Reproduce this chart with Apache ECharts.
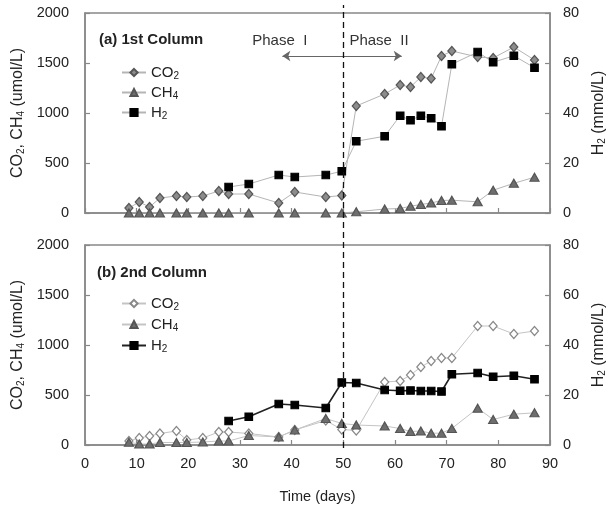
<!DOCTYPE html>
<html><head><meta charset="utf-8">
<script src="https://cdn.jsdelivr.net/npm/echarts@6/dist/echarts.min.js"></script>
<style>html,body{margin:0;padding:0;background:#fff}#c{width:609px;height:510px}</style>
</head><body><div id="c"></div>
<script>
// Sampling days (shared by both columns)
const days = [8.5, 10.5, 12.5, 14.5, 17.7, 19.7, 22.8, 25.9, 27.8, 31.7, 37.5, 40.6, 46.6, 49.7, 52.5, 58, 61, 63, 65, 67, 69, 71, 76, 79, 83, 87];
const h2Days = [27.8, 31.7, 37.5, 40.6, 46.6, 49.7, 52.5, 58, 61, 63, 65, 67, 69, 71, 76, 79, 83, 87];

// (a) 1st Column
const co2A = [50, 110, 60, 150, 170, 160, 170, 220, 190, 190, 100, 210, 160, 175, 1070, 1190, 1280, 1260, 1360, 1345, 1570, 1620, 1560, 1550, 1660, 1530];
const ch4A = [0, 0, 0, 0, 0, 0, 0, 0, 0, 0, 0, 0, 0, 0, 12, 40, 45, 68, 85, 100, 125, 128, 112, 228, 297, 358];
const h2A = [10.4, 11.6, 15.2, 14.4, 15.2, 16.7, 28.7, 30.7, 38.9, 37.1, 38.9, 37.9, 34.7, 59.5, 64.4, 60.3, 62.9, 58.1];

// (b) 2nd Column
const co2B = [40, 70, 90, 115, 140, 50, 70, 130, 130, 115, 80, 150, 245, 155, 145, 630, 640, 700, 780, 840, 870, 870, 1190, 1190, 1110, 1140];
const ch4B = [28, 10, 10, 25, 25, 25, 30, 40, 40, 95, 80, 150, 265, 215, 200, 190, 165, 135, 140, 118, 118, 165, 368, 255, 308, 322];
const h2B = [9.6, 11.3, 16.4, 16.0, 14.8, 25.0, 24.8, 22.0, 21.7, 21.8, 21.6, 21.6, 21.4, 28.3, 28.8, 27.3, 27.7, 26.3];

// Annotations
const phaseBoundary = 50;
const phaseLabels = ['Phase  I', 'Phase  II'];
const panelTitles = ['(a) 1st Column', '(b) 2nd Column'];

const FONT = '"Liberation Sans", Arial, sans-serif';
const TXT = '#222';
const AX = '#888';
const pair = (xs, ys) => xs.map((x, i) => [x, ys[i]]);
const sub = { s: { fontSize: 10, verticalAlign: 'bottom', padding: [6, 0, 0, 0], fontFamily: FONT, color: TXT } };

const chart = echarts.init(document.getElementById('c'), null, { renderer: 'canvas' });

const axLine = { show: true, onZero: false, lineStyle: { color: AX, width: 1.5 } };
const tick = { show: true, inside: true, length: 5, lineStyle: { color: AX, width: 1.2 } };
const lbl = { fontSize: 14.5, color: TXT, fontFamily: FONT, formatter: v => String(v) };

function xAx(gi, showLabel) {
  const o = { gridIndex: gi, type: 'value', min: 0, max: 90, interval: 10, axisLine: axLine, axisTick: tick,
    axisLabel: Object.assign({ show: showLabel, margin: 11 }, lbl), splitLine: { show: false } };
  if (showLabel) {
    o.name = 'Time (days)'; o.nameLocation = 'middle'; o.nameGap = 44;
    o.nameTextStyle = { fontSize: 14.5, color: TXT, fontFamily: FONT };
  }
  return o;
}
function yLeft(gi) {
  return { gridIndex: gi, type: 'value', position: 'left', min: 0, max: 2000, interval: 500,
    axisLine: axLine, axisTick: tick, splitLine: { show: false },
    axisLabel: Object.assign({ margin: 16 }, lbl),
    name: 'CO{s|2}, CH{s|4} (umol/L)', nameLocation: 'middle', nameGap: 58, nameRotate: 90,
    nameTextStyle: { fontSize: 16, color: TXT, fontFamily: FONT, rich: sub } };
}
function yRight(gi) {
  return { gridIndex: gi, type: 'value', position: 'right', min: 0, max: 80, interval: 20,
    axisLine: axLine, axisTick: tick, splitLine: { show: false },
    axisLabel: Object.assign({ margin: 13 }, lbl),
    name: 'H{s|2} (mmol/L)', nameLocation: 'middle', nameGap: 41, nameRotate: 90,
    nameTextStyle: { fontSize: 16, color: TXT, fontFamily: FONT, rich: sub } };
}

function ser(name, xi, yi, data, symbol, size, fill, stroke, lineColor, lineWidth) {
  return { name, type: 'line', xAxisIndex: xi, yAxisIndex: yi, data, symbol, symbolSize: size,
    showAllSymbol: true, z: 3,
    itemStyle: { color: fill, borderColor: stroke, borderWidth: 1.2 },
    lineStyle: { color: lineColor, width: lineWidth },
    emphasis: { disabled: true } };
}

const LG = '#b5b5b5';
const series = [
  ser('a_co2', 0, 0, pair(days, co2A), 'diamond', [8, 9], '#8c8c8c', '#555', LG, 1),
  ser('a_ch4', 0, 0, pair(days, ch4A), 'triangle', [9, 8], '#6e6e6e', '#555', LG, 1),
  ser('a_h2', 0, 1, pair(h2Days, h2A), 'rect', 7.5, '#000', '#000', LG, 1),
  ser('b_co2', 1, 2, pair(days, co2B), 'diamond', [8, 9], '#fff', '#888', '#c4c4c4', 1),
  ser('b_ch4', 1, 2, pair(days, ch4B), 'triangle', [9, 8], '#6e6e6e', '#555', '#c4c4c4', 1),
  ser('b_h2', 1, 3, pair(h2Days, h2B), 'rect', 7.5, '#000', '#000', '#222', 1.6)
];

// Phase arrows and labels on the top panel
series[0].markLine = {
  silent: true, symbol: ['none', 'arrow'], symbolSize: 8, animation: false,
  lineStyle: { color: '#666', type: 'solid', width: 1 }, label: { show: false },
  data: [
    [{ coord: [phaseBoundary, 1570] }, { coord: [38.2, 1570] }],
    [{ coord: [phaseBoundary, 1570] }, { coord: [61.3, 1570] }]
  ]
};
series[0].markPoint = {
  silent: true, symbol: 'rect', symbolSize: 0, animation: false,
  label: { show: true, position: 'inside', formatter: p => p.name, fontSize: 15, color: '#333', fontFamily: FONT },
  data: [
    { name: phaseLabels[0], coord: [37.7, 1720] },
    { name: phaseLabels[1], coord: [56.9, 1720] }
  ]
};

// Dashed boundary line spanning both panels
series.push({
  name: 'boundary', type: 'line', xAxisIndex: 2, yAxisIndex: 4, data: [], silent: true,
  markLine: { silent: true, symbol: ['none', 'none'], animation: false, label: { show: false },
    lineStyle: { color: '#111', type: [6, 4], width: 1.3 }, data: [{ xAxis: phaseBoundary }] }
});

const fmt = n => ({ co2: 'CO{s|2}', ch4: 'CH{s|4}', h2: 'H{s|2}' })[n.split('_')[1]];
const legendText = { fontSize: 15, color: TXT, fontFamily: FONT, rich: { s: { fontSize: 10, verticalAlign: 'bottom', padding: [7, 0, 0, 0], color: TXT, fontFamily: FONT } } };

chart.setOption({
  animation: false,
  backgroundColor: '#fff',
  title: [
    { text: panelTitles[0], left: 99, top: 32, padding: 0, textStyle: { fontSize: 15, fontWeight: 'bold', color: TXT, fontFamily: FONT } },
    { text: panelTitles[1], left: 97, top: 265, padding: 0, textStyle: { fontSize: 15, fontWeight: 'bold', color: TXT, fontFamily: FONT } }
  ],
  legend: [
    { data: ['a_co2', 'a_ch4', 'a_h2'], orient: 'vertical', left: 121, top: 65, padding: 0,
      itemWidth: 24, itemHeight: 9, itemGap: 4, selectedMode: false, formatter: fmt, textStyle: legendText },
    { data: ['b_co2', 'b_ch4', 'b_h2'], orient: 'vertical', left: 121, top: 296, padding: 0,
      itemWidth: 24, itemHeight: 9, itemGap: 5, selectedMode: false, formatter: fmt, textStyle: legendText }
  ],
  grid: [
    { left: 85, top: 13, width: 465, height: 200, show: true, borderColor: AX, borderWidth: 1.5, outerBoundsMode: 'none' },
    { left: 85, top: 245, width: 465, height: 200, show: true, borderColor: AX, borderWidth: 1.5, outerBoundsMode: 'none' },
    { left: 85, top: 5, width: 465, height: 443, show: false, outerBoundsMode: 'none' }
  ],
  xAxis: [xAx(0, false), xAx(1, true), { gridIndex: 2, type: 'value', min: 0, max: 90, show: false }],
  yAxis: [yLeft(0), yRight(0), yLeft(1), yRight(1), { gridIndex: 2, type: 'value', min: 0, max: 1, show: false }],
  series
});
</script>
</body></html>
